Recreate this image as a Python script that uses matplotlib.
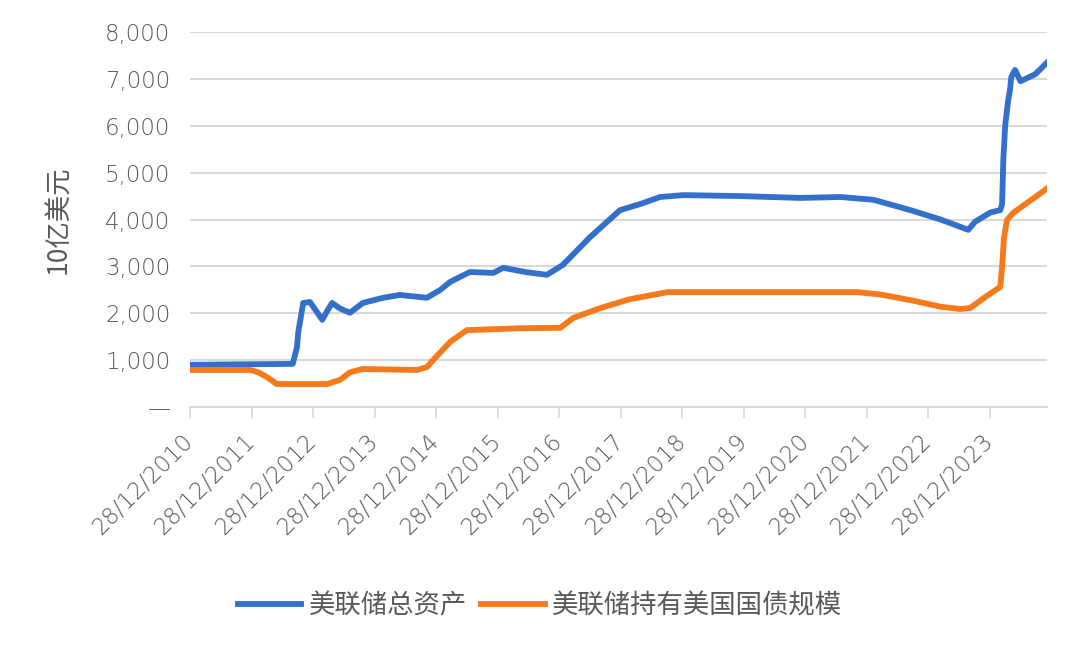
import matplotlib
matplotlib.use("Agg")
import matplotlib.pyplot as plt
from matplotlib.ticker import FixedLocator, FuncFormatter

plt.rcParams['font.family'] = ['DejaVu Sans', 'Noto Sans CJK SC']

# Data (decimal years, billions USD)
total_x = [2010.99, 2012.66, 2012.73, 2012.75, 2012.83, 2012.94, 2013.04, 2013.14, 2013.22,
           2013.30, 2013.43, 2013.59, 2013.80, 2014.13, 2014.40, 2014.84, 2015.06, 2015.22,
           2015.54, 2015.92, 2016.08, 2016.44, 2016.79, 2017.05, 2017.49, 2017.98, 2018.31,
           2018.63, 2019.01, 2019.93, 2020.91, 2021.56, 2022.10, 2022.70, 2023.19, 2023.64,
           2023.75, 2024.00, 2024.16, 2024.19, 2024.21, 2024.24, 2024.29, 2024.32, 2024.34,
           2024.40, 2024.49, 2024.73, 2024.93]
total_y = [900, 920, 1280, 1600, 2220, 2240, 2050, 1860, 2050,
           2220, 2100, 2010, 2220, 2330, 2390, 2330, 2500, 2670,
           2880, 2860, 2970, 2880, 2820, 3030, 3620, 4200, 4330,
           4480, 4520, 4500, 4460, 4480, 4420, 4200, 4000, 3780,
           3950, 4150, 4200, 4330, 5270, 6000, 6550, 6780, 7040,
           7190, 6950, 7100, 7360]

ust_x = [2010.99, 2011.97, 2012.10, 2012.24, 2012.40, 2013.22, 2013.43, 2013.59, 2013.80,
         2014.68, 2014.84, 2014.94, 2015.22, 2015.49, 2016.36, 2017.01, 2017.22, 2017.66,
         2018.14, 2018.75, 2021.84, 2022.21, 2022.70, 2023.19, 2023.51, 2023.67, 2023.92,
         2024.16, 2024.19, 2024.22, 2024.27, 2024.37, 2024.93]
ust_y = [790, 790, 740, 640, 490, 490, 580, 740, 810,
         790, 850, 1000, 1390, 1640, 1680, 1690, 1900, 2110,
         2300, 2450, 2450, 2400, 2280, 2140, 2090, 2110, 2350,
         2560, 2990, 3600, 3990, 4140, 4670]

tick_years = list(range(2010, 2024))
tick_labels = [f"28/12/{y}" for y in tick_years]
y_ticks = [0, 1000, 2000, 3000, 4000, 5000, 6000, 7000, 8000]
series_names = ["美联储总资产", "美联储持有美国国债规模"]

BLUE = "#3370CC"
ORANGE = "#F77A1A"
GREY = "#595959"
GRID = "#D9D9D9"
CJK = ['Noto Sans CJK SC', 'DejaVu Sans']

fig = plt.figure(figsize=(10.8, 6.45), dpi=100)
ax = fig.add_axes([190/1080, 1-407/645, (1047-190)/1080, (407-32)/645])

ax.plot(total_x, total_y, color=BLUE, lw=4.2, label=series_names[0], solid_joinstyle='round')
ax.plot(ust_x, ust_y, color=ORANGE, lw=4.2, label=series_names[1], solid_joinstyle='round')

ax.set_xlim(2010.99, 2024.92)
ax.set_ylim(0, 8000)

tick_pos = [y + 0.99 for y in tick_years]
ax.xaxis.set_major_locator(FixedLocator(tick_pos))
ax.set_xticklabels(tick_labels, rotation=45, ha='right', va='center', rotation_mode='anchor',
                   fontsize=16.5, color=GREY, fontweight='light')
ax.tick_params(axis='x', direction='out', length=8, width=1.2, color=GRID, pad=14)

ax.yaxis.set_major_locator(FixedLocator(y_ticks))
ax.yaxis.set_major_formatter(FuncFormatter(lambda v, p: "—" if v == 0 else f"{int(v):,}"))
ax.tick_params(axis='y', length=0, pad=14, labelsize=16.5, labelcolor=GREY)
for lab in ax.get_yticklabels():
    lab.set_fontweight('light')

ax.grid(axis='y', color=GRID, lw=1.5)
ax.set_axisbelow(True)
for s in ['top', 'right', 'left']:
    ax.spines[s].set_visible(False)
ax.spines['bottom'].set_color(GRID)
ax.spines['bottom'].set_linewidth(1.5)

ax.set_ylabel("10亿美元", fontsize=19, color=GREY, labelpad=24, family=CJK)

leg = fig.legend(loc='center', bbox_to_anchor=(0.5, 1-606/645), ncol=2, frameon=False,
                 prop={'family': CJK, 'size': 19}, handlelength=2.4, handletextpad=0.27,
                 columnspacing=0.55)
for t in leg.get_texts():
    t.set_color(GREY)

fig.savefig("out.png", dpi=100)
